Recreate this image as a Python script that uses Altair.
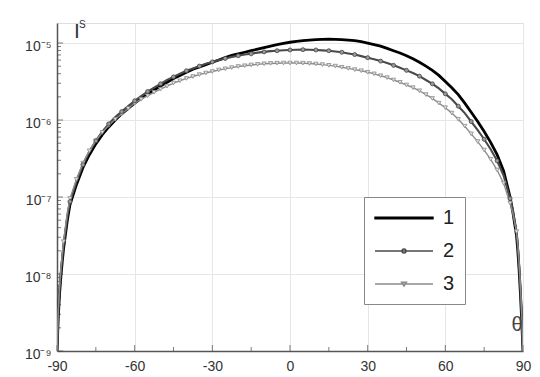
import altair as alt
import pandas as pd

# ---------------- data ----------------
theta = [-90, -89.5, -89, -88.5, -88, -87.5, -86, -85, -82.5, -80, -77.5, -75, -72.5, -70,
         -67.5, -65, -62.5, -60, -57.5, -55, -52.5, -50, -47.5, -45, -42.5, -40, -37.5, -35,
         -32.5, -30, -27.5, -25, -22.5, -20, -17.5, -15, -12.5, -10, -7.5, -5, -2.5, 0, 2.5,
         5, 7.5, 10, 12.5, 15, 17.5, 20, 22.5, 25, 27.5, 30, 32.5, 35, 37.5, 40, 42.5, 45,
         47.5, 50, 52.5, 55, 57.5, 60, 62.5, 65, 67.5, 70, 72.5, 75, 77.5, 80, 82.5, 85, 86,
         87.5, 88, 88.5, 89, 89.5, 90]

# log10 of I^S for each curve
log_I1 = [-9.0, -8.55, -8.25, -8.03, -7.85, -7.68, -7.3, -7.1, -6.84, -6.62, -6.45, -6.31, -6.19, -6.09,
          -6.00, -5.92, -5.85, -5.78, -5.72, -5.66, -5.61, -5.56, -5.51, -5.46, -5.42, -5.38, -5.34, -5.31,
          -5.28, -5.25, -5.22, -5.19, -5.16, -5.14, -5.12, -5.10, -5.08, -5.06, -5.04, -5.02, -5.005, -4.99, -4.98,
          -4.97, -4.962, -4.956, -4.952, -4.95, -4.952, -4.956, -4.962, -4.97, -4.983, -5.0, -5.02, -5.04, -5.07, -5.10, -5.13, -5.165,
          -5.205, -5.25, -5.30, -5.355, -5.42, -5.50, -5.58, -5.67, -5.78, -5.90, -6.02, -6.15, -6.29, -6.45, -6.66, -7.0, -7.18,
          -7.5, -7.7, -7.95, -8.25, -8.6, -9.0]

log_I2 = [-9.0, -8.5, -8.2, -7.98, -7.8, -7.63, -7.25, -7.06, -6.8, -6.58, -6.41, -6.27, -6.15, -6.05,
          -5.96, -5.89, -5.82, -5.75, -5.69, -5.63, -5.58, -5.53, -5.48, -5.44, -5.40, -5.36, -5.33, -5.30,
          -5.27, -5.245, -5.22, -5.20, -5.18, -5.165, -5.15, -5.14, -5.125, -5.115, -5.105, -5.10, -5.094, -5.09, -5.087,
          -5.086, -5.087, -5.09, -5.095, -5.10, -5.11, -5.12, -5.135, -5.15, -5.17, -5.19, -5.21, -5.235, -5.26, -5.29, -5.32, -5.355,
          -5.39, -5.43, -5.48, -5.53, -5.59, -5.66, -5.73, -5.82, -5.91, -6.02, -6.13, -6.25, -6.38, -6.53, -6.72, -7.02, -7.16,
          -7.45, -7.65, -7.9, -8.2, -8.55, -9.0]

log_I3 = [-9.0, -8.45, -8.15, -7.93, -7.75, -7.58, -7.2, -7.02, -6.77, -6.56, -6.40, -6.27, -6.16, -6.07,
          -5.99, -5.92, -5.85, -5.78, -5.73, -5.685, -5.64, -5.60, -5.56, -5.52, -5.49, -5.46, -5.435, -5.41,
          -5.39, -5.37, -5.35, -5.335, -5.32, -5.305, -5.295, -5.285, -5.277, -5.27, -5.265, -5.262, -5.26, -5.26, -5.26,
          -5.262, -5.266, -5.272, -5.28, -5.29, -5.30, -5.315, -5.33, -5.345, -5.36, -5.38, -5.40, -5.425, -5.45, -5.48, -5.51, -5.545,
          -5.58, -5.62, -5.67, -5.72, -5.78, -5.84, -5.91, -5.99, -6.08, -6.18, -6.28, -6.39, -6.51, -6.65, -6.82, -7.08, -7.2,
          -7.45, -7.62, -7.85, -8.15, -8.5, -9.0]

series_names = ["1", "2", "3"]
series_colors = ["#000000", "#4a4a4a", "#8c8c8c"]
series_widths = [2.8, 1.4, 1.4]

x_labels = [-90, -60, -30, 0, 30, 60, 90]
x_minor = [-75, -45, -15, 15, 45, 75]
y_decades = [1e-9, 1e-8, 1e-7, 1e-6, 1e-5]
y_decade_labels = ["10\u207b\u2079", "10\u207b\u2078", "10\u207b\u2077", "10\u207b\u2076", "10\u207b\u2075"]
y_minor = [k * d for d in [1e-9, 1e-8, 1e-7, 1e-6, 1e-5] for k in range(2, 10) if k * d < 1.8e-5]

W, H = 466, 328

rows = []
for name, logs in zip(series_names, [log_I1, log_I2, log_I3]):
    for t, v in zip(theta, logs):
        rows.append({"theta": t, "I": 10 ** v, "series": name})
df = pd.DataFrame(rows)

xscale = alt.Scale(domain=[-90, 90], nice=False, zero=False)
yscale = alt.Scale(type="log", domain=[1e-9, 1.82e-5], nice=False)
cscale = alt.Scale(domain=series_names, range=series_colors)

label_expr = " : ".join(
    [f"datum.value < {d * 1.5} ? '{l}'" for d, l in zip(y_decades[:-1], y_decade_labels[:-1])]
) + f" : '{y_decade_labels[-1]}'"

x_axis = alt.Axis(values=x_labels, labelExpr="'' + datum.value", ticks=False, tickSize=0,
                  labelPadding=8, labelFontSize=14, labelColor="#333", labelFont="Liberation Sans",
                  grid=True, gridColor="#e6e6e6", gridWidth=1, domainColor="#555", domainWidth=1.5,
                  title=None, labelFlush=False)
y_axis = alt.Axis(values=y_decades, labelExpr=label_expr, ticks=False, tickSize=0,
                  labelPadding=6, labelFontSize=14, labelColor="#333", labelFont="Liberation Sans",
                  labelOffset=3, grid=True, gridColor="#e6e6e6", gridWidth=1,
                  domainColor="#555", domainWidth=1.5, title=None)

# legend symbols (unit = 10 px, symbol box is 20 px wide; the line runs 58 px)
legend_shapes = [
    "M-1,-0.08H4.8V0.08H-1Z",
    "M-1,0H4.8M1.7,0A0.2,0.2,0,1,0,2.1,0A0.2,0.2,0,1,0,1.7,0",
    "M-1,0H4.8M1.65,-0.18L2.15,-0.18L1.9,0.22Z",
]
the_legend = alt.Legend(
    orient="none", legendX=307, legendY=174, title=None, fillColor="white",
    strokeColor="#888", padding=10, labelFontSize=20, labelFont="Liberation Sans",
    labelColor="#222", rowPadding=12, labelOffset=47, symbolStrokeWidth=1.4, symbolSize=400,
    symbolOpacity=1)

base = alt.Chart(df)

lines = base.mark_line(clip=True).encode(
    x=alt.X("theta:Q", scale=xscale, axis=x_axis),
    y=alt.Y("I:Q", scale=yscale, axis=y_axis),
    color=alt.Color("series:N", scale=cscale, legend=the_legend),
    strokeWidth=alt.StrokeWidth("series:N", scale=alt.Scale(domain=series_names, range=series_widths), legend=None),
)

pts2 = base.transform_filter(
    "datum.series == '2' && datum.theta % 5 == 0 && abs(datum.theta) < 88"
).mark_point(shape="circle", size=16, fill="#9a9a9a", stroke="#444", strokeWidth=0.8, opacity=1).encode(
    x="theta:Q", y="I:Q")

pts3 = base.transform_filter(
    "datum.series == '3' && datum.theta % 2.5 == 0 && abs(datum.theta) < 88"
).mark_point(shape="triangle-down", size=18, fill="#e0e0e0", stroke="#8c8c8c", strokeWidth=0.8, opacity=1).encode(
    x="theta:Q", y="I:Q")

legend_carrier = base.transform_filter("false").mark_point(
    size=400, strokeWidth=1.4, filled=False, opacity=1).encode(
    x="theta:Q", y="I:Q",
    color=alt.Color("series:N", scale=cscale, legend=the_legend),
    shape=alt.Shape("series:N", scale=alt.Scale(domain=series_names, range=legend_shapes), legend=the_legend),
)

# inward ticks on both axes
xt_major = alt.Chart(pd.DataFrame({"t": x_labels})).mark_tick(
    color="#444", thickness=1, size=6, orient="vertical").encode(
    x=alt.X("t:Q", scale=xscale), y=alt.value(H - 3))
xt_minor = alt.Chart(pd.DataFrame({"t": x_minor})).mark_tick(
    color="#444", thickness=1, size=4, orient="vertical").encode(
    x=alt.X("t:Q", scale=xscale), y=alt.value(H - 2))
yt_major = alt.Chart(pd.DataFrame({"v": y_decades})).mark_tick(
    color="#444", thickness=1, size=6, orient="horizontal").encode(
    y=alt.Y("v:Q", scale=yscale), x=alt.value(3))
yt_minor = alt.Chart(pd.DataFrame({"v": y_minor})).mark_tick(
    color="#444", thickness=1, size=4, orient="horizontal").encode(
    y=alt.Y("v:Q", scale=yscale), x=alt.value(2))

ylab_I = alt.Chart(pd.DataFrame({"s": ["I"]})).mark_text(
    fontSize=21, font="Liberation Sans", color="#333", align="left", baseline="alphabetic").encode(
    text="s:N", x=alt.value(17), y=alt.value(15))
ylab_S = alt.Chart(pd.DataFrame({"s": ["S"]})).mark_text(
    fontSize=10, font="Liberation Sans", color="#333", align="left", baseline="alphabetic").encode(
    text="s:N", x=alt.value(22), y=alt.value(5))
xlab = alt.Chart(pd.DataFrame({"s": ["\u03b8"]})).mark_text(
    fontSize=20, font="Liberation Sans", color="#444", align="center", baseline="middle").encode(
    text="s:N", x=alt.value(460), y=alt.value(302))

chart = alt.layer(
    xt_major, xt_minor, yt_major, yt_minor, lines, pts3, pts2, legend_carrier, ylab_I, ylab_S, xlab
).resolve_scale(strokeWidth="independent").properties(
    width=W, height=H,
    autosize=alt.AutoSizeParams(type="none"),
    padding={"left": 49, "top": 15, "right": 9, "bottom": 23},
).configure_view(stroke=None).configure(background="white")

chart.save("out.html", embed_options={"renderer": "svg", "actions": False})
